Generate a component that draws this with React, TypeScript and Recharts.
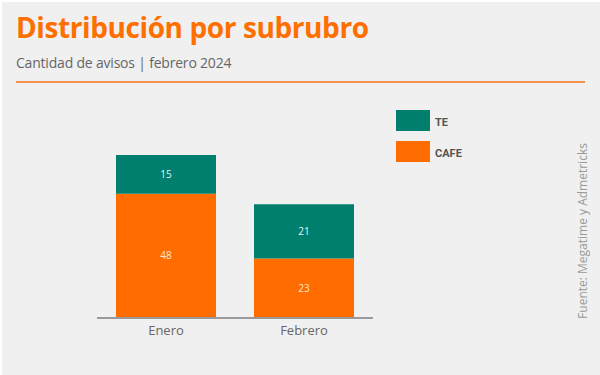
import React from "react"
import { BarChart, Bar, XAxis, YAxis, LabelList } from "recharts"

// datos
const months = ["Enero", "Febrero"]
const cafe = [48, 23]
const te = [15, 21]

const ORANGE = "#ff6d00"
const TEAL = "#007f6e"

const chartData = months.map((m, i) => ({ month: m, CAFE: cafe[i], TE: te[i] }))

const legendItems = [
  { name: "TE", color: TEAL },
  { name: "CAFE", color: ORANGE },
]

function CustomLegend() {
  return (
    <div style={{ position: "absolute", left: 394, top: 108 }}>
      {legendItems.map((item) => (
        <div key={item.name} style={{ display: "flex", alignItems: "center", height: 21, marginBottom: 10 }}>
          <div style={{ width: 34, height: 21, background: item.color }} />
          <span
            style={{
              marginLeft: 5,
              marginTop: 3,
              fontFamily: "'Liberation Sans Narrow', 'Roboto', sans-serif",
              fontWeight: 700,
              fontSize: 11,
              color: "#555",
            }}
          >
            {item.name}
          </span>
        </div>
      ))}
    </div>
  )
}

export default function App() {
  return (
    <div
      style={{
        position: "fixed",
        top: 0,
        left: 0,
        width: 600,
        height: 375,
        background: "#f0f0f0",
        borderTop: "2px solid #fff",
        borderLeft: "2px solid #fff",
        boxSizing: "border-box",
        overflow: "hidden",
        fontFamily: "'Open Sans', sans-serif",
      }}
    >
      <div
        style={{
          position: "absolute",
          left: 14,
          top: 6,
          fontSize: 28,
          fontWeight: 700,
          color: "#ff6f00",
          letterSpacing: -0.4,
          whiteSpace: "nowrap",
        }}
      >
        Distribución por subrubro
      </div>
      <div style={{ position: "absolute", left: 14, top: 51, fontSize: 14, color: "#666", whiteSpace: "nowrap", letterSpacing: -0.2 }}>
        Cantidad de avisos | febrero 2024
      </div>
      <div style={{ position: "absolute", left: 14, top: 79, width: 569, height: 2, background: "#f29450" }} />
      <div
        style={{
          position: "absolute",
          left: 580,
          top: 229,
          transform: "translate(-50%, -50%) rotate(-90deg)",
          fontSize: 12,
          color: "#9a9a9a",
          whiteSpace: "nowrap",
        }}
      >
        Fuente: Megatime y Admetricks
      </div>
      <CustomLegend />
      <div style={{ position: "absolute", left: -2, top: -2 }}>
        <BarChart width={600} height={375} data={chartData} margin={{ top: 155, right: 227, bottom: 27, left: 97 }}>
          <XAxis
            dataKey="month"
            tickLine={false}
            axisLine={{ stroke: "#999", strokeWidth: 2 }}
            tick={{ fontSize: 13, fill: "#666", fontFamily: "'Open Sans', sans-serif" }}
            tickMargin={2}
          />
          <YAxis hide domain={[0, 63]} />
          <Bar dataKey="CAFE" stackId="a" fill={ORANGE} barSize={100} isAnimationActive={false}>
            <LabelList dataKey="CAFE" position="center" fill="#ffe6cf" fontSize={10} />
          </Bar>
          <Bar dataKey="TE" stackId="a" fill={TEAL} barSize={100} isAnimationActive={false}>
            <LabelList dataKey="TE" position="center" fill="#e0f4f0" fontSize={10} />
          </Bar>
        </BarChart>
      </div>
    </div>
  )
}
